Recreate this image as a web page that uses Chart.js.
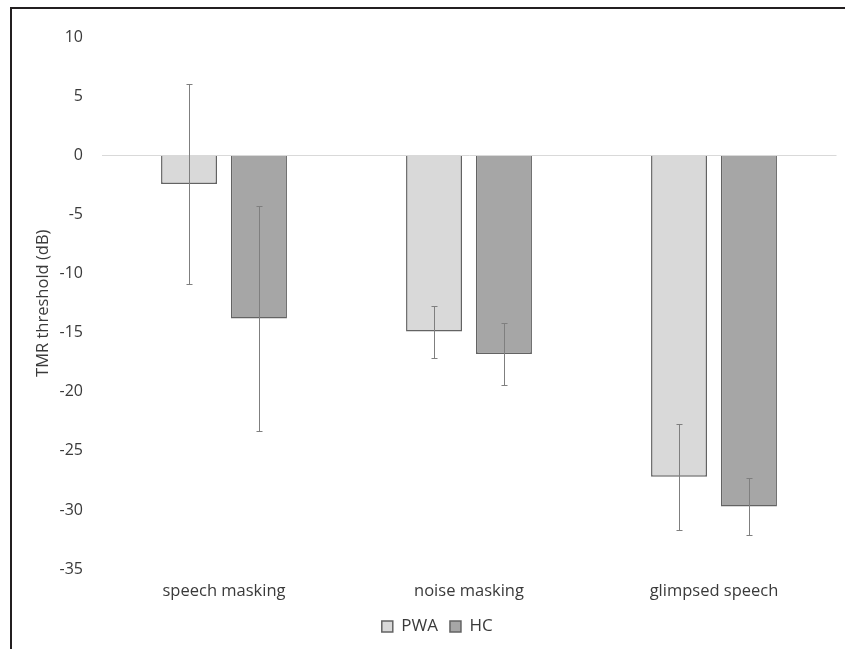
<!DOCTYPE html>
<html>
<head>
<meta charset="utf-8">
<script src="https://cdn.jsdelivr.net/npm/chart.js@4/dist/chart.umd.min.js"></script>
<style>
    html, body { margin: 0; padding: 0; background: #fff; }
    body { width: 845px; height: 649px; overflow: hidden; position: relative; }
    #frame {
        position: absolute; left: 10px; top: 7px; right: -10px; bottom: -10px;
        border-top: 2px solid #231f20; border-left: 2px solid #231f20;
    }
    #tmrChart { position: absolute; left: 12px; top: 9px; }
</style>
</head>
<body>
<div id="frame"></div>
<canvas id="tmrChart" width="833" height="640"></canvas>
<script>
// ===== Dados =====
const categories = ['speech masking', 'noise masking', 'glimpsed speech'];
const pwaMean = [-2.4, -14.9, -27.2];
const pwaErr = [8.5, 2.2, 4.5];
const hcMean = [-13.8, -16.8, -29.7];
const hcErr = [9.5, 2.6, 2.4];
const yMin = -35, yMax = 10, yStep = 5;

const textColor = '#3a3a3a';
const fontFamily = '"Open Sans", sans-serif';

// ===== Barras de erro =====
const errorBars = {
    id: 'errorBars',
    afterDatasetsDraw(chart) {
        const { ctx, scales: { y } } = chart;
        ctx.save();
        ctx.strokeStyle = '#7f7f7f';
        ctx.lineWidth = 1;
        chart.data.datasets.forEach((ds, di) => {
            const meta = chart.getDatasetMeta(di);
            meta.data.forEach((bar, i) => {
                const m = ds.data[i], e = ds.errors[i];
                const yTop = Math.round(y.getPixelForValue(m + e)) + 0.5;
                const yBot = Math.round(y.getPixelForValue(m - e)) + 0.5;
                const x = Math.round(bar.x) + 0.5;
                ctx.beginPath();
                ctx.moveTo(x, yTop); ctx.lineTo(x, yBot);
                ctx.moveTo(x - 3, yTop); ctx.lineTo(x + 3, yTop);
                ctx.moveTo(x - 3, yBot); ctx.lineTo(x + 3, yBot);
                ctx.stroke();
            });
        });
        ctx.restore();
    }
};

// ===== Legenda um pouco à direita =====
const legendShift = {
    id: 'legendShift',
    afterLayout(chart) {
        chart.legend.left += 13;
        chart.legend.right += 13;
    }
};

// ===== Gráfico =====
new Chart(document.getElementById('tmrChart'), {
    type: 'bar',
    data: {
        labels: categories,
        datasets: [
            {
                label: 'PWA',
                data: pwaMean,
                errors: pwaErr,
                backgroundColor: '#d9d9d9',
                borderColor: '#636363',
                borderWidth: 1.5,
                barPercentage: 0.8,
                categoryPercentage: 0.571
            },
            {
                label: 'HC',
                data: hcMean,
                errors: hcErr,
                backgroundColor: '#a6a6a6',
                borderColor: '#636363',
                borderWidth: 1.5,
                barPercentage: 0.8,
                categoryPercentage: 0.571
            }
        ]
    },
    options: {
        responsive: false,
        animation: false,
        layout: { padding: { left: 0, right: 8.5, top: 28.5, bottom: 4 } },
        plugins: {
            legend: {
                position: 'bottom',
                labels: {
                    boxWidth: 11,
                    boxHeight: 11,
                    padding: 12,
                    color: textColor,
                    font: { family: fontFamily, size: 17 }
                }
            },
            tooltip: { enabled: false }
        },
        scales: {
            x: {
                grid: { display: false },
                border: { display: false },
                ticks: {
                    color: textColor,
                    padding: 4,
                    font: { family: fontFamily, size: 16.5 }
                },
                afterFit(scale) { scale.height = 37; }
            },
            y: {
                min: yMin,
                max: yMax,
                ticks: {
                    stepSize: yStep,
                    padding: 18.5,
                    color: textColor,
                    font: { family: fontFamily, size: 16 }
                },
                grid: {
                    drawTicks: false,
                    color: c => (c.tick && c.tick.value === 0) ? '#d9d9d9' : 'rgba(0,0,0,0)'
                },
                border: { display: false },
                title: {
                    display: true,
                    text: 'TMR threshold (dB)',
                    color: textColor,
                    padding: { top: 21, bottom: 0 },
                    font: { family: fontFamily, size: 16.5 }
                },
                afterFit(scale) { scale.width = 89.5; }
            }
        }
    },
    plugins: [errorBars, legendShift]
});
</script>
</body>
</html>
